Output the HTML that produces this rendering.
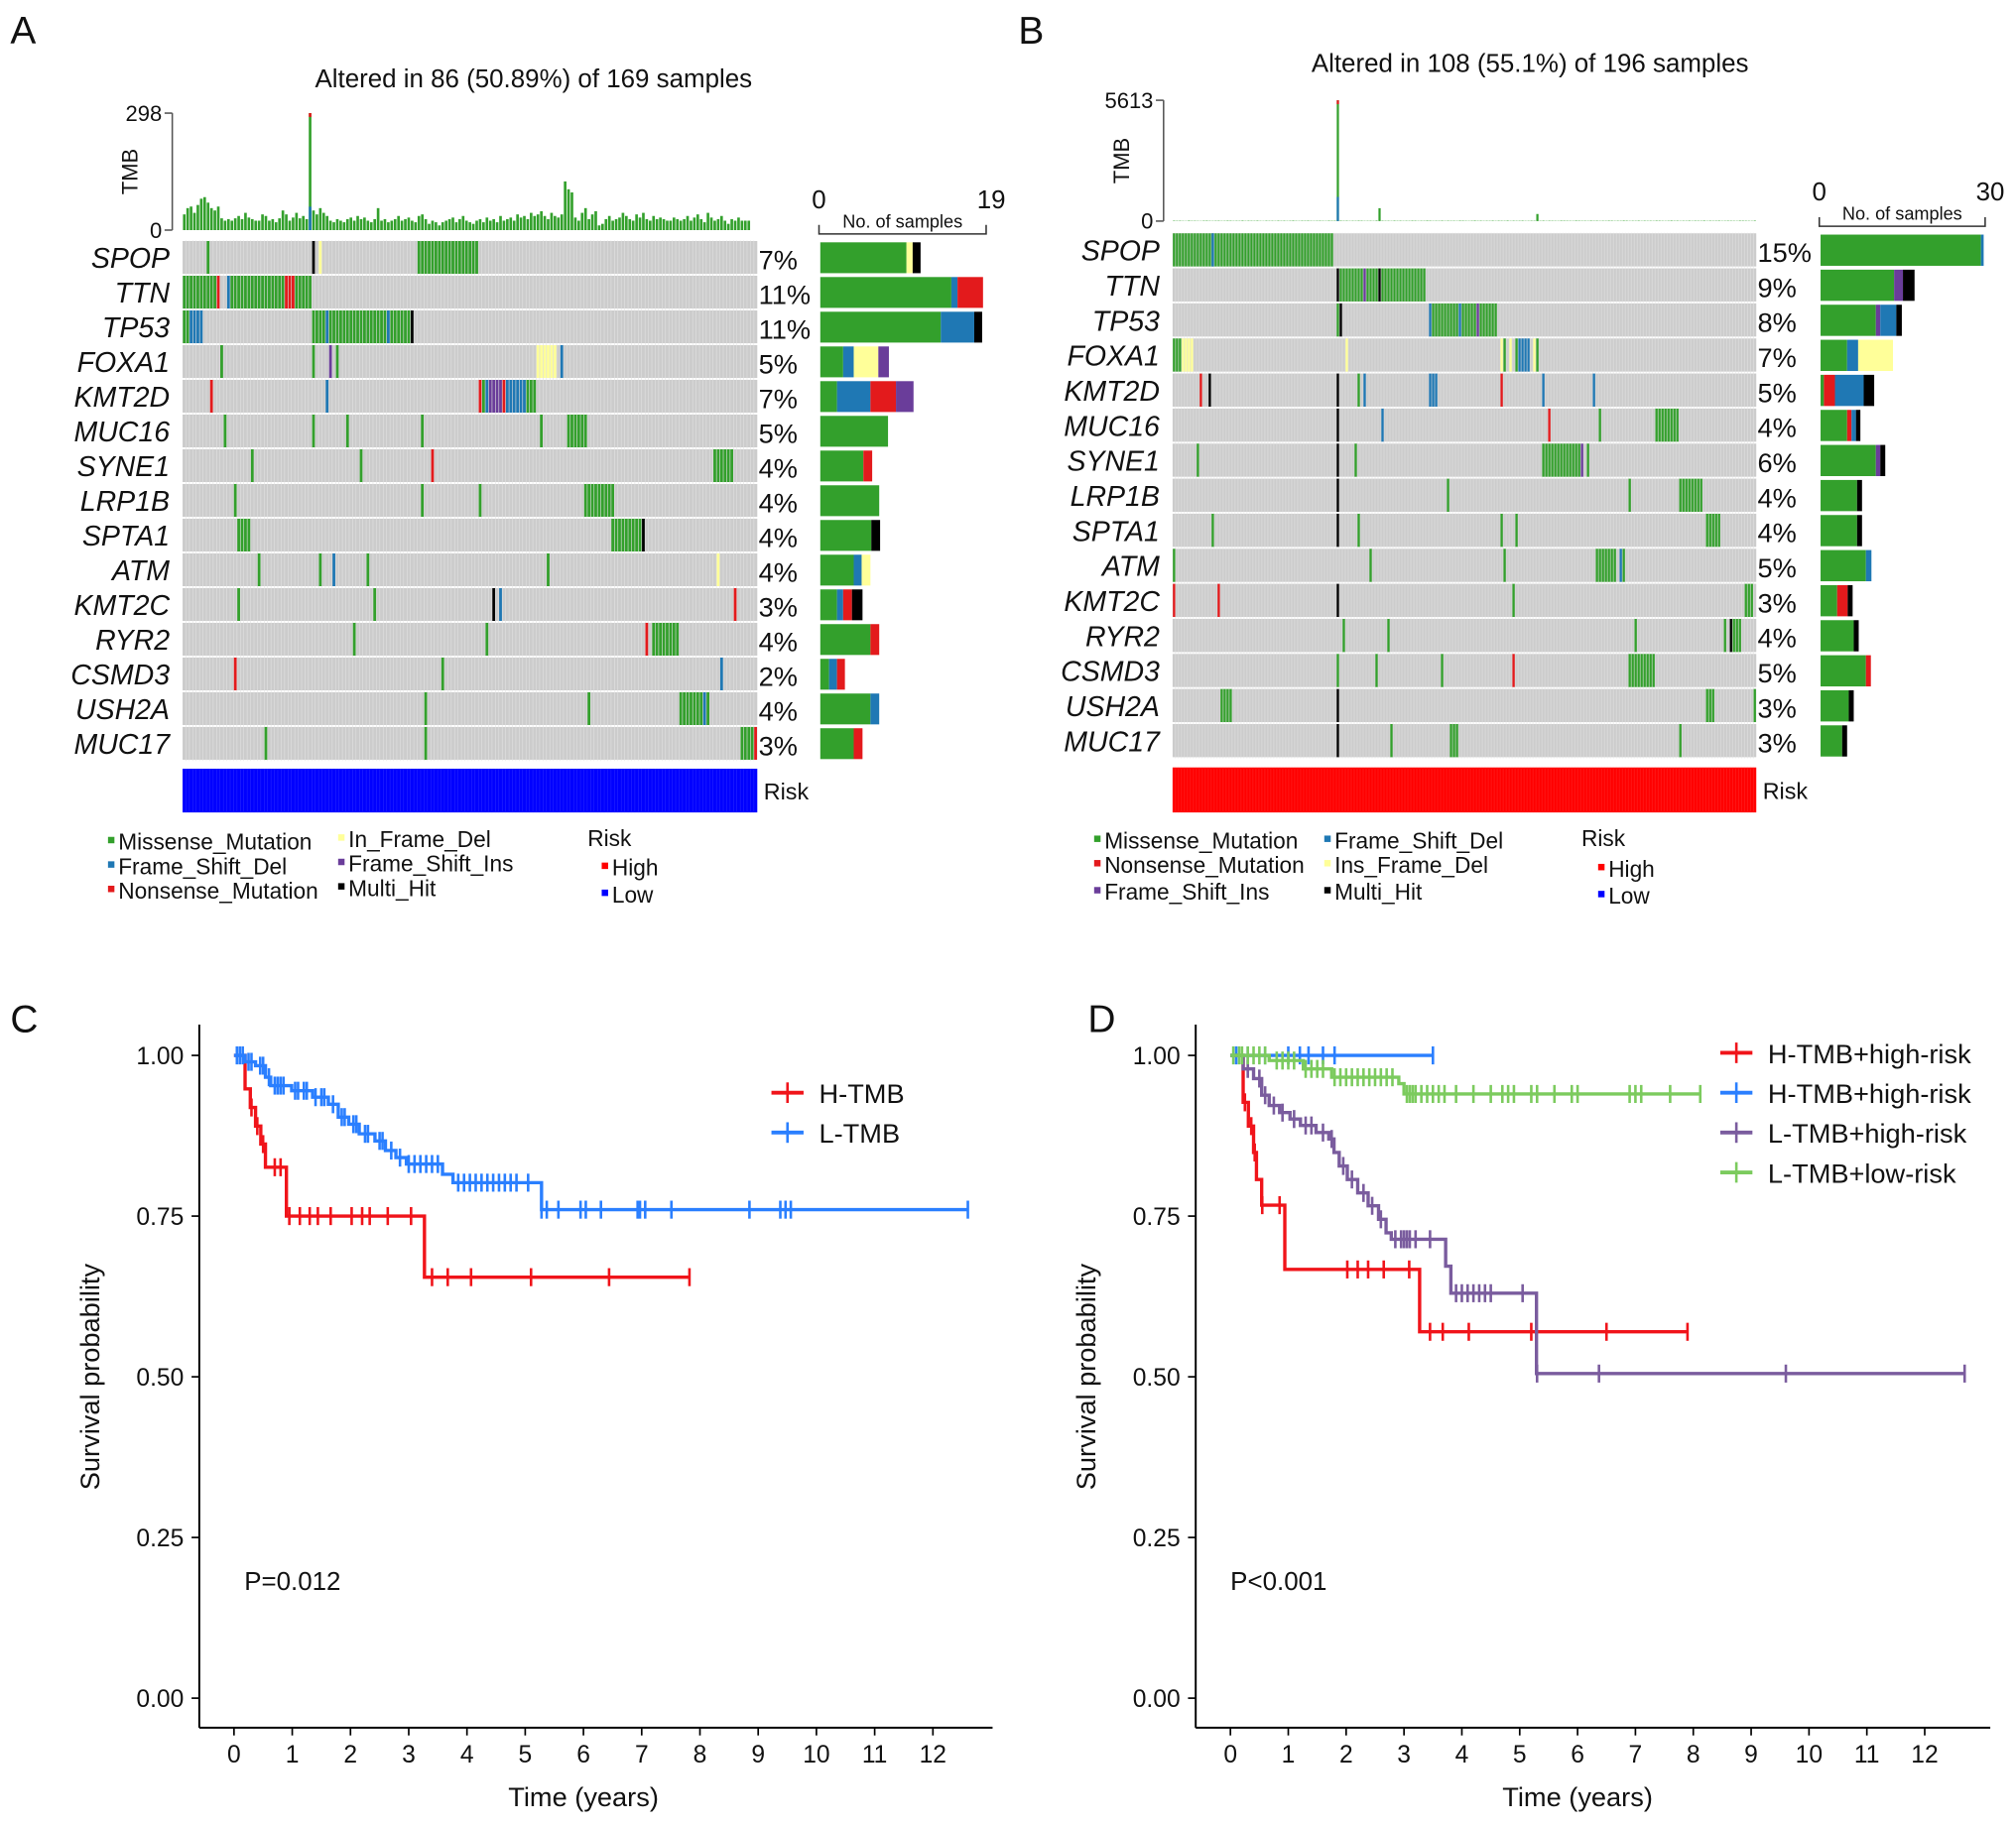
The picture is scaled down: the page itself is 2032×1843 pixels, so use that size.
<!DOCTYPE html>
<html><head><meta charset="utf-8"><style>
html,body{margin:0;padding:0;background:#fff}
svg{display:block}
text{font-family:"Liberation Sans",Arial,sans-serif;fill:#111}
</style></head><body>
<svg id="fig" width="2032" height="1843" viewBox="0 0 1568 1422" preserveAspectRatio="none" xmlns="http://www.w3.org/2000/svg">
<rect width="1568" height="1422" fill="#fff"/>
<g id="pa"></g>
<g id="pb"></g>
<g id="pc"></g>
<g id="pd"></g>
</svg>
<script>
const genes=["SPOP","TTN","TP53","FOXA1","KMT2D","MUC16","SYNE1","LRP1B","SPTA1","ATM","KMT2C","RYR2","CSMD3","USH2A","MUC17"];
const pctA=["7%","11%","11%","5%","7%","5%","4%","4%","4%","4%","3%","4%","2%","4%","3%"];
const pctB=["15%","9%","8%","7%","5%","4%","6%","4%","4%","5%","3%","4%","5%","3%","3%"];
const nA=169, nB=196;
// TMB per sample
const tmbA=[40,56,60,44,64,80,84,70,56,50,60,30,24,28,24,30,36,28,44,32,28,24,24,40,36,24,28,20,30,50,40,24,32,44,30,36,28,298,50,40,56,44,36,24,20,28,24,20,28,32,24,36,28,32,24,20,28,56,24,28,20,24,28,36,24,28,32,24,20,36,40,28,16,24,20,12,20,24,28,32,20,28,36,24,20,16,24,28,20,32,24,28,20,36,24,28,32,24,40,32,36,28,44,36,40,48,36,28,44,36,32,40,124,104,96,32,24,44,56,28,40,48,12,16,28,36,24,28,32,44,36,28,24,40,32,44,28,24,36,28,32,28,24,24,32,28,24,28,36,24,32,40,28,20,44,32,24,28,36,24,16,28,24,32,24,24,24];
const tmbB=[20,15,18,12,10,22,14,16,12,10,18,20,14,12,16,18,12,14,20,18,12,16,14,22,12,18,16,14,20,12,10,18,14,16,12,20,14,18,12,16,22,14,12,18,16,20,14,12,16,18,14,12,20,16,18,5613,20,14,18,12,16,14,20,18,12,14,16,12,22,600,18,14,16,12,20,14,18,12,16,14,20,18,12,16,14,22,18,12,16,14,20,12,18,14,16,12,20,18,14,12,16,22,14,18,12,16,14,20,12,18,16,14,22,12,18,14,16,20,12,14,18,16,330,14,20,12,18,16,14,12,20,18,16,14,12,22,18,14,16,12,20,14,18,12,16,14,20,18,12,16,14,22,18,12,16,14,20,12,18,14,16,12,20,18,14,12,16,22,14,18,12,16,14,20,12,18,16,14,22,12,18,14,16,20,12,14,18,16,14,12,20,18,16,14,12,22];
// mutations: [geneIndex, startCol, endCol, type]
const mutA=[[0,7,7,"G"],[0,38,38,"K"],[0,40,40,"Y"],[0,69,86,"G"],
[1,0,9,"G"],[1,10,10,"R"],[1,13,13,"B"],[1,14,29,"G"],[1,30,32,"R"],[1,33,37,"G"],
[2,0,1,"G"],[2,2,5,"B"],[2,38,41,"G"],[2,42,42,"B"],[2,43,59,"G"],[2,60,60,"B"],[2,61,66,"G"],[2,67,67,"K"],
[3,11,11,"G"],[3,38,38,"G"],[3,43,43,"P"],[3,45,45,"G"],[3,104,109,"Y"],[3,111,111,"B"],
[4,8,8,"R"],[4,42,42,"B"],[4,87,87,"R"],[4,88,88,"G"],[4,89,89,"B"],[4,90,93,"P"],[4,94,94,"R"],[4,95,100,"B"],[4,101,103,"G"],
[5,12,12,"G"],[5,38,38,"G"],[5,48,48,"G"],[5,70,70,"G"],[5,105,105,"G"],[5,113,118,"G"],
[6,20,20,"G"],[6,52,52,"G"],[6,73,73,"R"],[6,156,161,"G"],
[7,15,15,"G"],[7,70,70,"G"],[7,87,87,"G"],[7,118,126,"G"],
[8,16,19,"G"],[8,126,134,"G"],[8,135,135,"K"],
[9,22,22,"G"],[9,40,40,"G"],[9,44,44,"B"],[9,54,54,"G"],[9,107,107,"G"],[9,157,157,"Y"],
[10,16,16,"G"],[10,56,56,"G"],[10,91,91,"K"],[10,93,93,"B"],[10,162,162,"R"],
[11,50,50,"G"],[11,89,89,"G"],[11,136,136,"R"],[11,138,145,"G"],
[12,15,15,"R"],[12,76,76,"G"],[12,158,158,"B"],
[13,71,71,"G"],[13,119,119,"G"],[13,146,152,"G"],[13,153,153,"B"],[13,154,154,"G"],
[14,24,24,"G"],[14,71,71,"G"],[14,164,167,"G"],[14,168,168,"R"]];
const mutB=[[0,0,53,"G"],[0,13,13,"B"],
[1,55,55,"K"],[1,56,63,"G"],[1,64,64,"P"],[1,65,68,"G"],[1,69,69,"K"],[1,70,84,"G"],
[2,55,55,"G"],[2,56,56,"K"],[2,86,86,"B"],[2,87,95,"G"],[2,96,96,"B"],[2,97,101,"G"],[2,102,102,"P"],[2,103,108,"G"],
[3,0,2,"G"],[3,3,6,"Y"],[3,58,58,"Y"],[3,110,110,"Y"],[3,111,111,"G"],[3,113,113,"Y"],[3,115,115,"G"],[3,116,119,"B"],[3,121,121,"Y"],[3,122,122,"G"],
[4,9,9,"R"],[4,12,12,"K"],[4,55,55,"K"],[4,62,62,"G"],[4,64,64,"B"],[4,86,88,"B"],[4,110,110,"R"],[4,124,124,"B"],[4,141,141,"B"],
[5,55,55,"K"],[5,70,70,"B"],[5,126,126,"R"],[5,143,143,"G"],[5,162,169,"G"],
[6,8,8,"G"],[6,55,55,"K"],[6,61,61,"G"],[6,124,136,"G"],[6,137,137,"P"],[6,139,139,"G"],
[7,55,55,"K"],[7,92,92,"G"],[7,153,153,"G"],[7,170,177,"G"],
[8,13,13,"G"],[8,55,55,"K"],[8,62,62,"G"],[8,110,110,"G"],[8,115,115,"G"],[8,179,183,"G"],
[9,0,0,"G"],[9,66,66,"G"],[9,111,111,"G"],[9,142,148,"G"],[9,150,150,"B"],[9,151,151,"G"],
[10,0,0,"R"],[10,15,15,"R"],[10,55,55,"K"],[10,114,114,"G"],[10,192,194,"G"],
[11,57,57,"G"],[11,72,72,"G"],[11,155,155,"G"],[11,185,185,"G"],[11,187,187,"K"],[11,188,190,"G"],
[12,55,55,"G"],[12,68,68,"G"],[12,90,90,"G"],[12,114,114,"R"],[12,153,161,"G"],
[13,16,19,"G"],[13,55,55,"K"],[13,179,181,"G"],[13,195,195,"G"],
[14,55,55,"K"],[14,73,73,"G"],[14,93,95,"G"],[14,170,170,"G"]];
const barA=[[["G",9.8],["Y",0.7],["K",0.9]],[["G",14.9],["B",0.7],["R",2.9]],[["G",13.7],["B",3.8],["K",0.9]],[["G",2.6],["B",1.2],["Y",2.8],["P",1.2]],[["G",1.9],["B",3.8],["R",2.9],["P",2.0]],[["G",7.7]],[["G",4.9],["R",1.0]],[["G",6.7]],[["G",5.8],["K",1.0]],[["G",3.8],["B",0.9],["Y",1.0]],[["G",1.9],["B",0.7],["R",1.0],["K",1.2]],[["G",5.7],["R",1.0]],[["G",1.0],["B",0.9],["R",0.9]],[["G",5.7],["B",1.0]],[["G",3.8],["R",1.0]]];
const barB=[[["G",29],["B",0.5]],[["G",13.3],["P",1.6],["K",2.1]],[["G",10],["P",0.8],["B",2.9],["K",1.0]],[["G",4.8],["B",2.0],["Y",6.3]],[["G",0.6],["R",2.0],["B",5.2],["K",1.9]],[["G",4.8],["R",0.8],["B",0.8],["K",0.8]],[["G",10],["P",0.8],["K",0.9]],[["G",6.6],["K",0.9]],[["G",6.6],["K",0.9]],[["G",8.2],["B",1.0]],[["G",3.0],["R",1.9],["K",0.9]],[["G",6.0],["K",0.9]],[["G",8.2],["R",0.9]],[["G",5.1],["K",0.9]],[["G",3.9],["K",0.9]]];
// KM data
const cRedT=[0.19,0.28,0.37,0.46,0.54,0.9,3.27];
const cRedS=[0.948,0.919,0.89,0.862,0.826,0.75,0.655];
const cRedC=[0.3,0.4,0.5,0.7,0.8,0.95,1.13,1.3,1.44,1.66,2.02,2.2,2.33,2.64,3.04,3.4,3.67,4.07,5.1,6.44,7.82];
const cBluT=[0.19,0.37,0.54,0.63,0.99,1.35,1.62,1.79,1.97,2.15,2.42,2.6,2.78,2.96,3.58,3.76,5.28];
const cBluS=[0.99,0.984,0.966,0.953,0.945,0.935,0.924,0.904,0.893,0.878,0.867,0.852,0.841,0.831,0.815,0.802,0.76];
const cBluC=[0.05,0.1,0.15,0.25,0.3,0.45,0.5,0.6,0.7,0.75,0.8,0.85,1.05,1.1,1.2,1.25,1.4,1.5,1.55,1.7,1.85,1.9,2.05,2.1,2.25,2.3,2.5,2.55,2.7,2.85,3.0,3.1,3.2,3.3,3.4,3.5,3.85,3.95,4.05,4.15,4.25,4.35,4.45,4.55,4.65,4.75,4.85,5.05,5.28,5.37,5.57,5.95,6.04,6.3,6.93,6.97,7.06,7.51,8.85,9.38,9.47,9.56,12.6];
const dRedT=[0.22,0.31,0.4,0.45,0.54,0.94,3.27];
const dRedS=[0.927,0.89,0.849,0.807,0.767,0.667,0.57];
const dRedC=[0.25,0.36,0.42,0.55,0.85,2.02,2.2,2.38,2.65,3.09,3.45,3.67,4.12,5.2,6.5,7.9];
const dBluT=[];
const dBluS=[];
const dBluC=[0.1,0.3,0.6,1.0,1.2,1.35,1.6,1.8,3.5];
const dPurT=[0.22,0.4,0.54,0.67,0.85,1.03,1.21,1.48,1.7,1.79,1.88,2.02,2.2,2.38,2.56,2.69,2.78,3.72,3.81,5.29];
const dPurS=[0.979,0.964,0.938,0.922,0.911,0.901,0.891,0.88,0.87,0.849,0.828,0.807,0.786,0.766,0.745,0.724,0.714,0.672,0.63,0.505];
const dPurC=[0.3,0.5,0.6,0.75,0.9,1.1,1.3,1.4,1.6,1.75,1.95,2.1,2.3,2.45,2.6,2.85,2.95,3.0,3.05,3.1,3.2,3.45,3.9,4.0,4.1,4.2,4.3,4.4,4.5,5.05,5.3,6.37,9.6,12.69];
const dGrnT=[0.67,1.26,1.75,2.91,3.0];
const dGrnS=[0.992,0.979,0.966,0.956,0.94];
const dGrnC=[0.05,0.15,0.2,0.3,0.4,0.5,0.6,0.8,0.9,1.0,1.1,1.3,1.4,1.5,1.6,1.8,1.9,2.0,2.1,2.2,2.3,2.4,2.5,2.6,2.7,2.8,3.05,3.1,3.15,3.2,3.3,3.4,3.5,3.6,3.7,3.9,4.2,4.5,4.7,4.8,4.9,5.2,5.3,5.6,5.9,6.0,6.9,7.0,7.1,7.6,8.12];

const NS="http://www.w3.org/2000/svg";
const COL={G:"#33A02C",B:"#1F78B4",R:"#E31A1C",P:"#6A3D9A",Y:"#FFFF99",K:"#000000"};
function el(parent,tag,attrs,txt){const e=document.createElementNS(NS,tag);for(const k in attrs)e.setAttribute(k,attrs[k]);if(txt!==undefined)e.textContent=txt;parent.appendChild(e);return e;}

function oncoplot(g,o){
  const colW=(o.x1-o.x0)/o.n, rowH=(o.y1-o.y0)/genes.length;
  const lab=el(g,"text",{x:o.lx,y:o.ly,"font-size":30},o.letter);
  
  
  const t=el(g,"text",{x:o.tx,y:o.ty,"font-size":20,"text-anchor":"middle"},o.title);
  
  
  const maxT=Math.max(...o.tmb);
  const ty=v=>o.tb-(v/maxT)*(o.tb-o.tt);
  el(g,"line",{x1:o.ax,y1:o.tt,x2:o.ax,y2:o.tb,stroke:"#555","stroke-width":1.2});
  el(g,"line",{x1:o.ax-6,y1:o.tt,x2:o.ax,y2:o.tt,stroke:"#555","stroke-width":1.2});
  el(g,"line",{x1:o.ax-6,y1:o.tb,x2:o.ax,y2:o.tb,stroke:"#555","stroke-width":1.2});
  el(g,"text",{x:o.ax-8,y:o.tt+6,"font-size":17,"text-anchor":"end"},String(maxT));
  el(g,"text",{x:o.ax-8,y:o.tb+6,"font-size":17,"text-anchor":"end"},"0");
  const tl=el(g,"text",{x:0,y:0,"font-size":17,"text-anchor":"middle",transform:`translate(${o.ax-27},${(o.tt+o.tb)/2}) rotate(-90)`},"TMB");
  
  
  o.tmb.forEach((v,i)=>{
    const x=o.x0+i*colW, h=o.tb-ty(v);
    const r=el(g,"rect",{x:x+0.3,y:ty(v),width:colW-0.6,height:h,fill:COL.G});
    
    
    if(v===maxT){el(g,"rect",{x:x+0.3,y:ty(v),width:colW-0.6,height:3,fill:COL.R});el(g,"rect",{x:x+0.3,y:o.tb-h*0.2,width:colW-0.6,height:h*0.2,fill:COL.B});}
  });
  genes.forEach((gn,i)=>{
    const y=o.y0+i*rowH;
    const bg=el(g,"rect",{x:o.x0,y:y+0.5,width:o.x1-o.x0,height:rowH-1.5,fill:"#cccccc"});
    
    
    const gl=el(g,"text",{x:o.x0-10,y:y+rowH/2+8,"font-size":22,"font-style":"italic","text-anchor":"end"},gn);
    
    
    const pl=el(g,"text",{x:o.x1+1,y:y+rowH/2+9,"font-size":21},o.pct[i]);
    
    
  });
  for(let c=1;c<o.n;c++){el(g,"line",{x1:o.x0+c*colW,y1:o.y0,x2:o.x0+c*colW,y2:o.y1,stroke:"#e2e2e2","stroke-width":0.45});}
  o.mut.forEach(m=>{
    const y=o.y0+m[0]*rowH;
    for(let c=m[1];c<=m[2];c++){
      const r=el(g,"rect",{x:o.x0+c*colW+0.25,y:y+0.5,width:colW-0.5,height:rowH-1.5,fill:COL[m[3]]});
      
      
    }
  });
  const bs=(o.bx1-o.bx0)/o.bmax;
  el(g,"text",{x:o.bx0,y:o.bty,"font-size":20,"text-anchor":"middle"},"0");
  el(g,"text",{x:o.bx1+4,y:o.bty,"font-size":20,"text-anchor":"middle"},String(o.bmax));
  el(g,"path",{d:`M${o.bx0},${o.bly-7}V${o.bly}H${o.bx1}V${o.bly-7}`,fill:"none",stroke:"#333","stroke-width":1.2});
  const nl=el(g,"text",{x:(o.bx0+o.bx1)/2,y:o.bly-5,"font-size":14,"text-anchor":"middle"},"No. of samples");
  
  
  o.bars.forEach((segs,i)=>{
    let x=o.bx0+1;const y=o.y0+i*rowH+1.5;
    segs.forEach(s=>{
      const r=el(g,"rect",{x:x,y:y,width:s[1]*bs,height:rowH-3,fill:COL[s[0]]});
      
      
      x+=s[1]*bs;
    });
  });
  const rk=el(g,"rect",{x:o.x0,y:o.ry0,width:o.x1-o.x0,height:o.ry1-o.ry0,fill:o.riskC});
  
  
  for(let c=1;c<o.n;c++){el(g,"line",{x1:o.x0+c*colW,y1:o.ry0,x2:o.x0+c*colW,y2:o.ry1,stroke:o.riskL,"stroke-width":0.4});}
  el(g,"text",{x:o.x1+5,y:(o.ry0+o.ry1)/2+7,"font-size":18},"Risk");
  const lg=el(g,"g",{});
  
  
  o.leg.forEach(L=>{
    el(lg,"rect",{x:L[0],y:L[1]-10,width:5,height:5,fill:COL[L[3]]||L[3]});
    el(lg,"text",{x:L[0]+8,y:L[1],"font-size":17.5},L[2]);
  });
}

oncoplot(document.getElementById("pa"),{letter:"A",lx:8,ly:34,title:"Altered in 86 (50.89%) of 169 samples",tx:415,ty:68,
 n:nA,x0:142,x1:589,y0:187,y1:592,tmb:tmbA,tt:88,tb:179,ax:134,pct:pctA,mut:mutA,
 bars:barA,bx0:637,bx1:767,bmax:19,bty:162,bly:182,ry0:598,ry1:632,riskC:"#0000FF",riskL:"#2a2aff",
 leg:[[84,661,"Missense_Mutation","G"],[84,680,"Frame_Shift_Del","B"],[84,699,"Nonsense_Mutation","R"],
      [263,659,"In_Frame_Del","Y"],[263,678,"Frame_Shift_Ins","P"],[263,697,"Multi_Hit","K"],
      [468,681,"High","#FF0000"],[468,702,"Low","#0000FF"]]});
el(document.getElementById("pa"),"text",{x:457,y:658,"font-size":17.5},"Risk");
oncoplot(document.getElementById("pb"),{letter:"B",lx:792,ly:34,title:"Altered in 108 (55.1%) of 196 samples",tx:1190,ty:56,
 n:nB,x0:912,x1:1366,y0:181,y1:590,tmb:tmbB,tt:78,tb:172,ax:905,pct:pctB,mut:mutB,
 bars:barB,bx0:1415,bx1:1544,bmax:30,bty:156,bly:176,ry0:597,ry1:632,riskC:"#FF0000",riskL:"#ff2a2a",
 leg:[[851,660,"Missense_Mutation","G"],[851,679,"Nonsense_Mutation","R"],[851,700,"Frame_Shift_Ins","P"],
      [1030,660,"Frame_Shift_Del","B"],[1030,679,"Ins_Frame_Del","Y"],[1030,700,"Multi_Hit","K"],
      [1243,682,"High","#FF0000"],[1243,703,"Low","#0000FF"]]});
el(document.getElementById("pb"),"text",{x:1230,y:658,"font-size":17.5},"Risk");

function km(g,o){
  const X=t=>o.x0+t*o.xs, Y=s=>821+(1-s)*500;
  const lab=el(g,"text",{x:o.lx,y:803,"font-size":30},o.letter);
  
  
  el(g,"line",{x1:o.ax,y1:797,x2:o.ax,y2:1344,stroke:"#000","stroke-width":1.5});
  el(g,"line",{x1:o.ax,y1:1344,x2:o.axr,y2:1344,stroke:"#000","stroke-width":1.5});
  [0,0.25,0.5,0.75,1].forEach(v=>{
    el(g,"line",{x1:o.ax-6,y1:Y(v),x2:o.ax,y2:Y(v),stroke:"#000","stroke-width":1.3});
    const t=el(g,"text",{x:o.ax-12,y:Y(v)+7,"font-size":19,"text-anchor":"end"},v.toFixed(2));
    
    
  });
  for(let i=0;i<=12;i++){
    el(g,"line",{x1:X(i),y1:1344,x2:X(i),y2:1350,stroke:"#000","stroke-width":1.3});
    const t=el(g,"text",{x:X(i),y:1371,"font-size":19,"text-anchor":"middle"},String(i));
    
    
  }
  const xt=el(g,"text",{x:X(6),y:1405,"font-size":21,"text-anchor":"middle"},"Time (years)");
  
  
  const yt=el(g,"text",{x:0,y:0,"font-size":21,"text-anchor":"middle",transform:`translate(${o.ax-78},${Y(0.5)}) rotate(-90)`},"Survival probability");
  
  
  const p=el(g,"text",{x:o.px,y:1237,"font-size":20},o.p);
  
  
  o.series.forEach((s,si)=>{
    const T=s[0],S=s[1],C=s[2],c=s[3];
    const end=Math.max(...C,...T);
    let d=`M${X(0)},${Y(1)}`;
    T.forEach((t,i)=>{d+=`H${X(t)}V${Y(S[i])}`;});
    d+=`H${X(end)}`;
    const pth=el(g,"path",{d:d,fill:"none",stroke:c,"stroke-width":2.6});
    
    
    C.forEach(t=>{
      let sv=1;T.forEach((tt,i)=>{if(tt<=t)sv=S[i];});
      const m=el(g,"line",{x1:X(t),y1:Y(sv)-7,x2:X(t),y2:Y(sv)+7,stroke:c,"stroke-width":2});
      
      
    });
    const ly=o.ly0+si*o.ldy;
    const lg=el(g,"g",{});
    
    
    el(lg,"line",{x1:o.lgx,y1:ly,x2:o.lgx+25,y2:ly,stroke:c,"stroke-width":3});
    el(lg,"line",{x1:o.lgx+12.5,y1:ly-8,x2:o.lgx+12.5,y2:ly+8,stroke:c,"stroke-width":2});
    el(lg,"text",{x:o.lgx+37,y:ly+8,"font-size":21},s[4]);
  });
}
km(document.getElementById("pc"),{letter:"C",lx:8,ax:155,axr:772,x0:182,xs:45.3,px:190,p:"P=0.012",lgx:600,ly0:850,ldy:31,
 series:[[cRedT,cRedS,cRedC,"#F0141A","H-TMB"],[cBluT,cBluS,cBluC,"#2A7FFF","L-TMB"]]});
km(document.getElementById("pd"),{letter:"D",lx:846,ax:930,axr:1548,x0:957,xs:45.0,px:957,p:"P<0.001",lgx:1338,ly0:819,ldy:31,
 series:[[dRedT,dRedS,dRedC,"#F0141A","H-TMB+high-risk"],[dBluT,dBluS,dBluC,"#2A7FFF","H-TMB+high-risk"],[dPurT,dPurS,dPurC,"#7A5C9E","L-TMB+high-risk"],[dGrnT,dGrnS,dGrnC,"#7CCB5E","L-TMB+low-risk"]]});
</script>
</body></html>
